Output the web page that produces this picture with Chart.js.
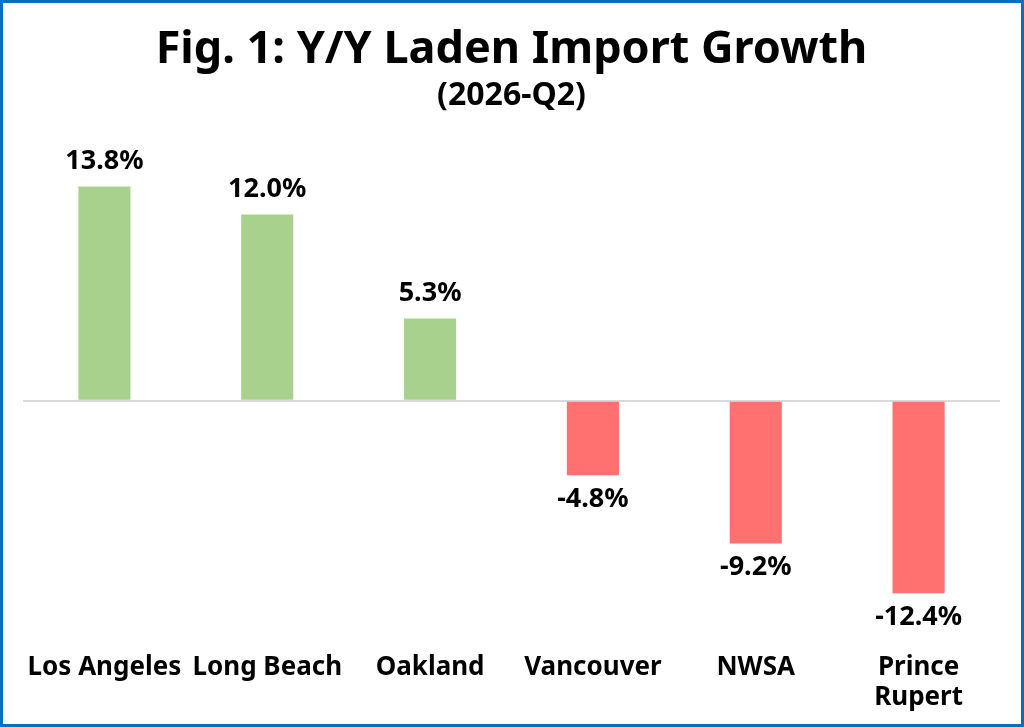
<!DOCTYPE html>
<html>
<head>
<meta charset="utf-8">
<script src="https://cdn.jsdelivr.net/npm/chart.js@4"></script>
<style>
html,body{margin:0;padding:0;background:#fff;}
#wrap{width:1024px;height:727px;position:relative;}
</style>
</head>
<body>
<div id="wrap"><canvas id="c" width="1024" height="727"></canvas></div>
<script>
const categories = [["Los Angeles"], ["Long Beach"], ["Oakland"], ["Vancouver"], ["NWSA"], ["Prince", "Rupert"]];
const growth = [13.8, 12.0, 5.3, -4.8, -9.2, -12.4];
const titleText = "Fig. 1: Y/Y Laden Import Growth";
const subtitleText = "(2026-Q2)";

const FONT = "'Noto Sans', 'Open Sans', sans-serif";
const GREEN = "#a9d18e";
const RED = "#ff7070";

const labelPlugin = {
  id: "barLabels",
  afterDatasetsDraw(chart) {
    const ctx = chart.ctx;
    const meta = chart.getDatasetMeta(0);
    ctx.save();
    ctx.font = "bold 27px " + FONT;
    ctx.fillStyle = "#000";
    ctx.textAlign = "center";
    ctx.textBaseline = "middle";
    meta.data.forEach((bar, i) => {
      const v = growth[i];
      const txt = v.toFixed(1) + "%";
      const y = v >= 0 ? bar.y - 25 : bar.y + 24;
      ctx.fillText(txt, bar.x, y);
    });
    ctx.restore();
  }
};

const borderPlugin = {
  id: "frame",
  afterDraw(chart) {
    const ctx = chart.ctx;
    ctx.save();
    ctx.strokeStyle = "#0070c0";
    ctx.lineWidth = 3;
    ctx.strokeRect(1.5, 1.5, chart.width - 3, chart.height - 3);
    ctx.restore();
  }
};

new Chart(document.getElementById("c"), {
  type: "bar",
  data: {
    labels: categories,
    datasets: [{
      data: growth,
      backgroundColor: growth.map(v => v >= 0 ? GREEN : RED),
      borderWidth: 0,
      barPercentage: 0.64,
      categoryPercentage: 0.5
    }]
  },
  options: {
    responsive: false,
    animation: false,
    devicePixelRatio: 1,
    layout: { padding: { left: 23, right: 24, top: 0, bottom: 10 } },
    plugins: {
      legend: { display: false },
      tooltip: { enabled: false },
      title: {
        display: true,
        text: titleText,
        color: "#000",
        font: { family: FONT, size: 45, weight: "bold", lineHeight: 1.2 },
        padding: { top: 23, bottom: 0 }
      },
      subtitle: {
        display: true,
        text: subtitleText,
        color: "#000",
        font: { family: FONT, size: 32, weight: "bold", lineHeight: 1.2 },
        padding: { top: 0, bottom: 6 }
      }
    },
    scales: {
      x: {
        grid: { display: false, drawTicks: false },
        border: { display: false },
        ticks: {
          color: "#000",
          padding: 4,
          maxRotation: 0,
          autoSkip: false,
          font: { family: FONT, size: 26, weight: "bold", lineHeight: 1.154 }
        }
      },
      y: {
        min: -16,
        max: 18,
        border: { display: false },
        ticks: { display: false, stepSize: 1 },
        grid: {
          drawTicks: false,
          lineWidth: 2,
          color: (c) => (c.tick && c.tick.value === 0) ? "#d9d9d9" : "rgba(0,0,0,0)"
        }
      }
    }
  },
  plugins: [labelPlugin, borderPlugin]
});
</script>
</body>
</html>
